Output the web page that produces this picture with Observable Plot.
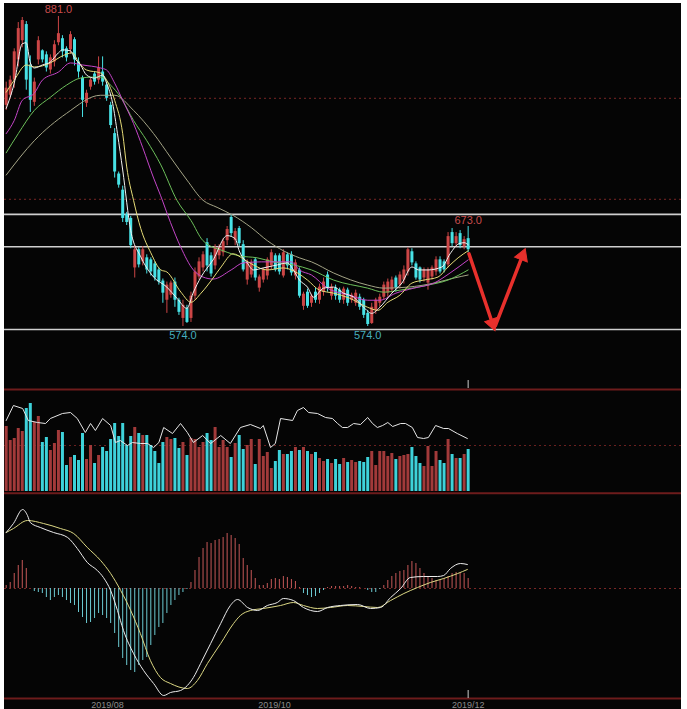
<!DOCTYPE html>
<html><head><meta charset="utf-8">
<script src="https://cdn.jsdelivr.net/npm/d3@7"></script>
<script src="https://cdn.jsdelivr.net/npm/@observablehq/plot@0.6"></script>
<style>
html,body{margin:0;padding:0;background:#fff;}
#chart{position:absolute;left:4px;top:3px;width:677px;height:706px;background:#050505;overflow:hidden;}
#chart svg{display:block;}
</style></head><body><div id="chart"></div>
<script>
// ---- Candles (price) ----
const open  = [793,803,818,838,857,873,833,796,838,847,843,828,836,855,859,849,848,858,836,820,795,811,824,818,826,813,793,765,725,709,685,681,632,650,638,642,640,636,630,619,600,605,618,600,582,592,582,604,623,632,657,644,634,644,647,659,682,659,671,655,620,625,640,612,620,624,634,644,644,624,645,645,624,630,594,608,597,608,600,608,625,604,612,610,600,610,600,597,603,600,587,577,590,597,603,607,610,622,615,620,628,648,636,632,622,617,623,628,640,638,635,667,656,666,653,661];
const high  = [816,822,849,875,880,876,842,820,861,848,846,843,857,881,862,851,866,860,840,822,808,820,826,841,841,816,796,770,727,713,687,683,654,652,653,645,642,638,632,621,618,619,622,602,600,595,608,632,642,648,661,647,655,655,661,673,685,671,673,659,640,640,642,625,632,642,650,646,646,650,647,648,640,632,608,611,606,612,616,622,628,616,615,612,613,612,607,610,606,602,590,597,602,606,618,621,623,624,628,634,652,651,638,633,632,632,634,643,643,640,667,671,667,669,663,673];
const low   = [788,800,810,831,850,808,786,792,833,835,826,824,831,852,840,836,844,832,820,781,791,808,813,814,812,797,770,721,711,677,674,651,622,632,634,626,624,619,615,597,587,602,593,585,574,577,578,600,620,628,628,623,630,640,643,654,663,654,653,628,615,622,619,608,617,620,630,628,625,622,630,624,620,602,590,592,593,597,596,604,608,600,600,597,596,594,597,594,590,582,574,576,586,593,600,603,607,608,611,616,624,634,620,617,618,610,620,624,626,627,632,653,653,651,650,647];
const close = [810,818,846,869,877,818,798,816,857,838,830,840,853,864,846,840,863,838,826,798,805,818,816,830,816,800,773,727,714,681,677,654,650,635,650,630,628,622,618,607,615,617,600,588,595,578,604,628,638,645,634,626,652,652,658,670,666,668,656,630,637,637,622,623,630,640,647,630,628,647,634,627,637,604,606,594,604,600,613,618,612,613,604,600,611,597,605,607,593,585,576,593,600,603,615,618,620,612,625,630,650,637,622,620,630,630,632,640,628,630,663,656,663,654,660,650];

// ---- Moving averages [candle index, price] ----
const ma5 = [[0,790],[2,815],[4,854],[5,855],[6,835],[7,830],[9,833],[11,836],[13,845],[14,848],[16,847],[17,840],[18.5,833],[20,823],[22,820],[24,823],[25,815],[26.5,795],[27.7,765],[29,729],[31,669],[33.5,643],[36.7,623],[40,613],[42.5,602],[45,592],[46.5,607],[48.5,623],[51.5,640],[55,664],[57,661],[58,649],[60,637],[61.5,630],[64,632],[67.5,635],[70,637],[71.5,630],[73,620],[75,613],[76.5,603],[79,612],[81.5,613],[84,607],[86.5,603],[89,593],[91,587],[93,593],[96,607],[98.5,617],[101,633],[102.7,630],[105,630],[108.5,633],[110.5,646],[112.7,656],[114,657],[115,655]];
const ma10 = [[0,806],[2,818],[5,833],[7,831],[11,835],[13.5,841],[16.5,845],[18,836],[20,828],[23.5,825],[25,818],[27,798],[29,765],[30,732],[31.7,699],[33.5,671],[36,647],[38.5,630],[40,628],[43.5,608],[46,598],[48.5,607],[51.5,622],[53.5,633],[56.5,646],[59,641],[61.5,635],[65,630],[69,632],[72.5,627],[75,620],[78,610],[81.5,607],[85.5,602],[90,593],[92.5,590],[95,598],[98,605],[101,617],[104,620],[107.5,623],[110,633],[112.5,642],[115,649]];
const ma20 = [[0,765],[2,778],[4,798],[7,805],[9,818],[13,826],[16,835],[19,833],[23.5,830],[25,828],[27,815],[29,798],[31.7,775],[34,751],[36.7,721],[38.4,704],[40.9,677],[43.4,653],[46.6,630],[49,623],[51.5,621],[56,630],[59,637],[63.5,638],[67.5,638],[71,638],[73,630],[76,625],[80,612],[85.5,605],[90,600],[93,600],[97,607],[101.5,612],[106.5,617],[110.5,627],[115,640]];
const ma30 = [[0,746],[3,765],[7,788],[11,801],[15,813],[18.5,820],[21.7,821],[23.5,821],[26,813],[28.5,801],[31.7,778],[35,758],[38.5,734],[42.5,699],[46,679],[49,659],[54,649],[58,644],[62.5,642],[66.5,638],[71.5,635],[76,630],[81.5,620],[90,612],[94,608],[98,610],[105,615],[110,620],[115,630]];
const ma60 = [[0,724],[7,758],[15,785],[23.5,803],[27,803],[31.7,788],[36.7,765],[41,741],[45,719],[49,699],[52.5,692],[56.5,684],[61,672],[65,659],[69,649],[73,642],[76,638],[81.5,627],[90,615],[94,612],[100,613],[106.5,617],[111.5,622],[115,625]];

// ---- Price levels, grid, labels, arrows ----
const priceGrid = [800, 700];
const levelLines = [685, 653, 571];
const priceLabels = [
  {i:13, p:881, t:"881.0", kind:"hi"},
  {i:44, p:574, t:"574.0", kind:"lo"},
  {i:90, p:574, t:"574.0", kind:"lo"},
  {i:115, p:673, t:"673.0", kind:"hi"}
];
const arrowSegs = [
  {i1:115.2, p1:646, i2:121.4, p2:573},
  {i1:121.8, p1:575, i2:128.9, p2:648}
];

// ---- Volume ----
const volume = [650,510,530,630,600,830,880,690,750,490,540,410,480,610,590,260,340,360,310,580,320,460,280,360,440,400,520,680,550,680,460,550,640,580,560,560,460,400,280,490,540,520,530,430,490,360,530,520,440,490,580,510,640,440,510,440,
  340,480,560,420,460,520,270,520,350,390,230,300,410,370,370,400,440,410,440,400,370,390,330,300,320,280,320,270,330,290,310,290,300,290,340,400,260,400,400,350,380,320,350,360,370,440,350,280,250,450,250,400,310,280,520,370,330,330,370,420];
const volLine = [[0,710],[1.8,860],[4.1,830],[5.5,710],[7.8,690],[9.8,680],[11,730],[14,780],[16,790],[17.7,730],[19.7,590],[21,680],[22.2,610],[24,730],[26,660],[27.2,490],[28.4,510],[30.2,460],[31.4,490],[33.4,480],[35.2,480],[36.7,440],[38,490],[39.2,640],[41.4,580],[43.4,680],[45.1,590],[46.6,490],[48.9,560],[50.9,480],[53.4,560],[55.8,480],[58.3,640],[60.8,670],[63.3,630],[64,660],[65.8,440],[67,480],[68.3,730],[71.3,710],[72.5,810],[74,840],[75.3,790],[77.5,780],[79.5,740],[81.2,730],[82.5,680],[83.7,640],[85,640],[86.5,680],[88.2,670],[90,740],[91.2,680],[92.4,640],[93.7,660],[95,690],[96.2,650],[98.2,680],[99.4,680],[101.1,640],[102.4,540],[103.9,530],[105.1,540],[106.9,660],[108.9,630],[110.1,630],[112.3,580],[114.8,530]];
const volGrid = [460];

// ---- MACD ----
const macdHist = [1.5,3,7.5,11.5,14,10,0,-1.5,-2,-2.5,-4.5,-6,-4.5,-3.5,-4.5,-6,-7.5,-8.5,-12,-14.5,-17.5,-17,-15,-12.5,-13.5,-15,-17.5,-22.5,-29.5,-35,-38.5,-41,-42,-38.5,-36,-34.5,-28.5,-23.5,-19.5,-17.5,-12.5,-8.5,-6,-3.5,-2,-0.5,3,9,15.5,20,23,22.5,24,24.5,25.5,27.5,26.5,25,22,15,11.5,9,5,1.5,1.5,2.5,4.5,5,4.5,6,5.5,4.5,3.5,0.5,-2.5,-3.5,-4.5,-4,-2.5,-1,0.5,1,1,1,1,1.5,1,0.5,0.5,0,-1,-2,-2,-0.5,1.5,4,6,7.5,8.5,9,11.5,13.5,12.5,10,7.5,5.5,5,4,4,5,6,7.5,8,7.5,7.5,5];
const dif = [[0,28],[1.8,32.5],[4.1,39.5],[5.3,36.5],[6,33],[8.5,30.5],[11.8,28],[15.3,25.5],[17.7,20],[20.2,13],[22.7,9],[24.2,5.5],[26,-1],[27.7,-11],[29.2,-21],[31.7,-32.5],[34.2,-41],[36.7,-47.5],[39.2,-53.5],[40.9,-52],[43.4,-51],[45.1,-48.5],[46.6,-44.5],[48.4,-37.5],[50.9,-27.5],[53.4,-17.5],[55.8,-8.5],[57.6,-5.5],[60.1,-9.5],[62.6,-11],[65,-8.5],[67.5,-7],[69,-5],[71.5,-6],[74,-9.5],[77.5,-11.5],[80,-9.5],[83.2,-8.5],[87.5,-8],[90.7,-10],[93.2,-9.5],[95.7,-4.5],[98.2,0],[100.6,5.5],[103.9,6],[107.4,6],[108.9,6.5],[110.6,10],[113.1,12.5],[114.8,12]];
const dea = [[0,28],[1.8,30],[5.3,34],[9.3,32.5],[13.5,30],[16.8,27.5],[20.2,20.5],[23.5,14],[26,7.5],[28.5,-1],[31,-11],[33.4,-22.5],[35.9,-36],[38.4,-44.5],[40.9,-47.5],[45.1,-50],[47.6,-46],[50.1,-37.5],[53.4,-27.5],[56.6,-17.5],[58.3,-13.5],[60.8,-11],[64,-10],[68.3,-8.5],[71.5,-7],[74,-8.5],[77.5,-10],[80.7,-9.5],[85,-8.5],[89,-9],[92.4,-9.5],[95.7,-6],[99,-2.5],[102.4,0.5],[105.6,3],[108.9,5],[112.4,7.5],[114.8,9.5]];

// ---- Date axis ----
const dateTicks = [{i:25.2, t:"2019/08"}, {i:66.8, t:"2019/10"}, {i:115, t:"2019/12"}];
const cursorIndex = 115;

// ---------------- drawing ----------------
const W = 677;
const RED = "#cc4646", CYAN = "#48e2e6";
const VRED = "#a23a3a", VCYAN = "#3ed2da";
const PANEL_RED = "#6e1c1c";
const FONT = "Liberation Sans, Arial, sans-serif";
const X_DOMAIN = [-0.423, 168.11], P_DOMAIN = [512.6, 893.87], P_H = 385;
const xOpt = {type:"linear", domain: X_DOMAIN, range:[0, W], axis:null};
const base = {width: W, margin:0, marginLeft:0, marginRight:0, marginTop:0, marginBottom:0,
  style:{background:"transparent", overflow:"hidden", fontFamily: FONT}};

const candles = open.map((o, i) => ({i, o, h: high[i], l: low[i], c: close[i], up: close[i] >= o}));
const pair = d => ({i: d[0], v: d[1]});
const maLine = (arr, color) => Plot.line(arr.map(pair), {x:"i", y:"v", stroke: color, strokeWidth: 1, curve:"monotone-x"});

// arrow shafts + filled heads (head orientation from the same scale mapping)
const sx = d3.scaleLinear(X_DOMAIN, [0, W]), sy = d3.scaleLinear(P_DOMAIN, [P_H, 0]);
const shafts = [], heads = [];
for (const a of arrowSegs) {
  const x1 = sx(a.i1), y1 = sy(a.p1), x2 = sx(a.i2), y2 = sy(a.p2);
  const len = Math.hypot(x2 - x1, y2 - y1), ux = (x2 - x1) / len, uy = (y2 - y1) / len;
  shafts.push({i1: a.i1, p1: a.p1, i2: sx.invert(x2 - ux * 9), p2: sy.invert(y2 - uy * 9)});
  heads.push({i: sx.invert(x2 - ux * 4.5), p: sy.invert(y2 - uy * 4.5), rot: Math.atan2(ux, -uy) * 180 / Math.PI});
}

const p1 = Plot.plot({...base, height: P_H,
  x: xOpt,
  y: {domain: P_DOMAIN, range:[P_H, 0], axis:null},
  marks: [
    Plot.ruleY(priceGrid, {stroke:"#7a2626", strokeDasharray:"2,3"}),
    Plot.ruleY(levelLines, {stroke:"#cfcfcf", strokeWidth:1.6}),
    Plot.ruleX(candles, {x:"i", y1:"l", y2:"h", stroke: d => d.up ? RED : CYAN, strokeWidth:1}),
    Plot.ruleX(candles, {x:"i", y1:"o", y2:"c", stroke: d => d.up ? RED : CYAN, strokeWidth:3}),
    maLine(ma60, "#a4a486"),
    maLine(ma30, "#6cbf5a"),
    maLine(ma20, "#c445c8"),
    maLine(ma10, "#e6dc78"),
    maLine(ma5, "#f2f2f2"),
    Plot.text(priceLabels, {x:"i", y:"p", text:"t", fontSize:11,
      fill: d => d.kind === "hi" ? "#c84c4c" : "#46aebe", lineAnchor:"middle"}),
    Plot.link(shafts, {x1:"i1", y1:"p1", x2:"i2", y2:"p2", stroke:"#e8302c", strokeWidth:3.5, strokeLinecap:"round"}),
    Plot.dot(heads, {x:"i", y:"p", rotate:"rot", symbol:"triangle2", r:6.5, fill:"#e8302c", stroke:"#e8302c", strokeWidth:1}),
    Plot.ruleX([cursorIndex], {y1:512.6, y2:520.5, stroke:"#cccccc"})
  ]
});
// offset labels vertically (high labels above, low labels below)
p1.querySelectorAll("text").forEach(t => {
  const s = t.textContent;
  if (s === "881.0") t.setAttribute("dy", "-7");
  else if (s === "673.0") t.setAttribute("dy", "-6");
  else if (s === "574.0") t.setAttribute("dy", "9");
});

const volData = volume.map((v, i) => ({i, v, up: candles[i].up}));
const p2 = Plot.plot({...base, height: 104,
  x: xOpt,
  y: {domain:[-10, 1030], range:[104, 0], axis:null},
  marks: [
    Plot.ruleY(volGrid, {stroke:"#6a2020", strokeDasharray:"2,3"}),
    Plot.ruleY([1020], {stroke: PANEL_RED, strokeWidth:2}),
    Plot.ruleX(volData, {x:"i", y1:0, y2:"v", stroke: d => d.up ? VRED : VCYAN, strokeWidth:3}),
    Plot.line(volLine.map(pair), {x:"i", y:"v", stroke:"#e6e6e6", strokeWidth:1})
  ]
});

const histData = macdHist.map((h, i) => ({i, h}));
const p3 = Plot.plot({...base, height: 217,
  x: xOpt,
  y: {domain:[-60.5, 48], range:[217, 0], axis:null},
  marks: [
    Plot.ruleY([47.6], {stroke: PANEL_RED, strokeWidth:2}),
    Plot.ruleY([-55], {stroke: PANEL_RED, strokeWidth:2}),
    Plot.ruleY([0], {stroke:"#7a2626", strokeDasharray:"2,3"}),
    Plot.ruleX(histData, {x:"i", y1:0, y2:"h", stroke: d => d.h >= 0 ? "#c65858" : "#6ccad2", strokeWidth:1}),
    Plot.line(dea.map(pair), {x:"i", y:"v", stroke:"#dcd884", strokeWidth:1, curve:"monotone-x"}),
    Plot.line(dif.map(pair), {x:"i", y:"v", stroke:"#ececec", strokeWidth:1, curve:"monotone-x"}),
    Plot.ruleX([cursorIndex], {y1:-55, y2:-51, stroke:"#cccccc"}),
    Plot.text(dateTicks, {x:"i", y:-56.6, text:"t", fontSize:9, fill:"#8c8c8c", lineAnchor:"top"})
  ]
});

const root = document.getElementById("chart");
root.append(p1, p2, p3);
</script>
</body></html>
